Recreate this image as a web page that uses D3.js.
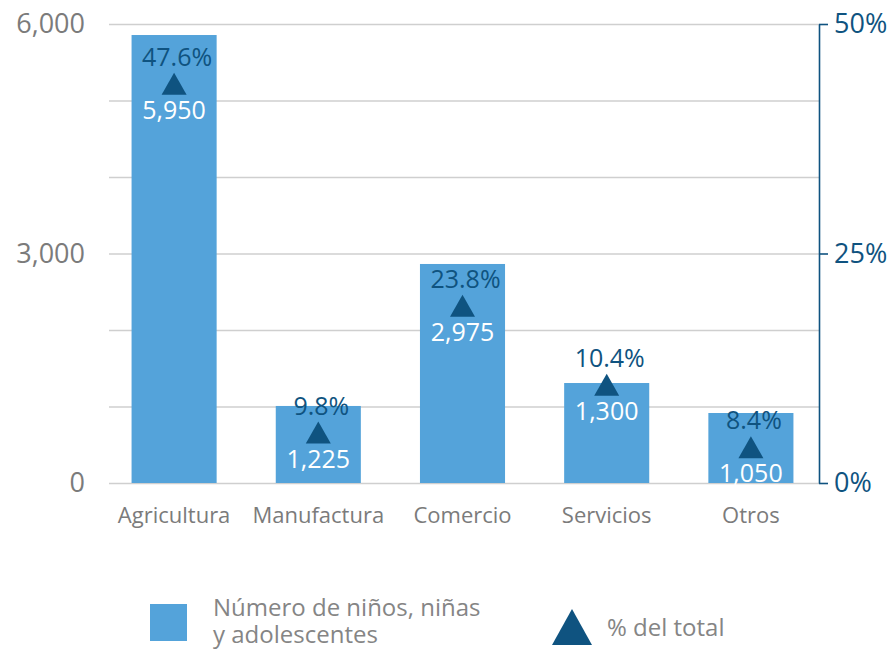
<!DOCTYPE html>
<html>
<head>
<meta charset="utf-8">
<script src="https://cdn.jsdelivr.net/npm/d3@7"></script>
<style>
  body { margin: 0; background: #fff; }
  text { font-family: "Open Sans", sans-serif; }
</style>
</head>
<body>
<div id="chart"></div>
<script>
const categories = ["Agricultura", "Manufactura", "Comercio", "Servicios", "Otros"];
// bar heights as drawn (left axis) and the printed labels
const ninos = [5856, 1007, 2863, 1307, 915];
const ninosLabels = ["5,950", "1,225", "2,975", "1,300", "1,050"];
// triangle positions (right axis, %) and the printed labels
const pctTotal = [43.5, 5.5, 19.3, 10.7, 3.9];
const pctLabels = ["47.6%", "9.8%", "23.8%", "10.4%", "8.4%"];
const leftTicks = [0, 3000, 6000];
const gridTicks = [0, 1000, 2000, 3000, 4000, 5000, 6000];
const rightTicks = [0, 25, 50];

const width = 890;
const height = 649;
const plot = ({left: 109, right: 819, top: 24, bottom: 483});

const barColor = "#54a3da";
const darkBlue = "#0f5380";
const gray = "#7b7b7b";

const svg = d3.select("#chart")
    .append("svg")
    .attr("width", width)
    .attr("height", height);

const x = d3.scaleBand()
    .domain(categories)
    .range([102, 823])
    .paddingInner(0.41)
    .paddingOuter(0.205);

const y = d3.scaleLinear()
    .domain([0, 6000])
    .range([plot.bottom, plot.top]);

const yR = d3.scaleLinear()
    .domain([0, 50])
    .range([plot.bottom, plot.top]);

// gridlines
const grid = svg.append("g")
    .attr("transform", `translate(${plot.left},0)`)
    .call(d3.axisLeft(y).tickValues(gridTicks).tickSize(-(plot.right - plot.left)).tickFormat(""));
grid.select(".domain").remove();
grid.selectAll("line").attr("stroke", "#cfcfcf").attr("stroke-width", 1.3);

// left labels
const yAxis = svg.append("g")
    .attr("transform", `translate(${plot.left},0)`)
    .call(d3.axisLeft(y).tickValues(leftTicks).tickSize(0).tickPadding(24).tickFormat(d3.format(",")));
yAxis.select(".domain").remove();
yAxis.selectAll("text")
    .attr("font-size", 27)
    .attr("fill", gray)
    .style("font-family", "'Open Sans', sans-serif");

// right axis
const yAxisR = svg.append("g")
    .attr("transform", `translate(${plot.right},0)`)
    .call(d3.axisRight(yR).tickValues(rightTicks).tickSize(9).tickSizeOuter(0).tickPadding(6).tickFormat(d => d + "%"));
yAxisR.select(".domain").attr("stroke", darkBlue).attr("stroke-width", 1.6);
yAxisR.selectAll("line").attr("stroke", darkBlue).attr("stroke-width", 1.6);
yAxisR.selectAll("text")
    .attr("font-size", 27)
    .attr("fill", darkBlue)
    .style("font-family", "'Open Sans', sans-serif");

// category labels
svg.append("g")
    .selectAll("text")
    .data(categories)
    .join("text")
    .attr("x", d => x(d) + x.bandwidth() / 2)
    .attr("y", 523)
    .attr("text-anchor", "middle")
    .attr("font-size", 22)
    .attr("fill", gray)
    .text(d => d);

const tri = (cx, cy, w, h) =>
    `M${cx},${cy - h / 2}L${cx + w / 2},${cy + h / 2}L${cx - w / 2},${cy + h / 2}Z`;

let bar = svg.selectAll(".bar")
    .data(categories)
    .join("g")
    .attr("class", "bar");

bar.append("rect")
    .attr("fill", barColor)
    .attr("x", d => x(d))
    .attr("width", x.bandwidth())
    .attr("y", (d, i) => y(ninos[i]))
    .attr("height", (d, i) => y(0) - y(ninos[i]));

bar.append("path")
    .attr("fill", darkBlue)
    .attr("d", (d, i) => tri(x(d) + x.bandwidth() / 2, yR(pctTotal[i]), 25, 22));

bar.append("text")
    .text((d, i) => pctLabels[i])
    .attr("x", d => x(d) + x.bandwidth() / 2 + 3)
    .attr("y", (d, i) => yR(pctTotal[i]) - 18)
    .attr("text-anchor", "middle")
    .attr("font-size", 25)
    .attr("fill", darkBlue);

bar.append("text")
    .text((d, i) => ninosLabels[i])
    .attr("x", d => x(d) + x.bandwidth() / 2)
    .attr("y", (d, i) => yR(pctTotal[i]) + 35)
    .attr("text-anchor", "middle")
    .attr("font-size", 25)
    .attr("fill", "white");

// legend
const legend = svg.append("g");
legend.append("rect")
    .attr("x", 150).attr("y", 604)
    .attr("width", 37).attr("height", 37)
    .attr("fill", barColor);
legend.append("text")
    .attr("x", 213).attr("y", 616)
    .attr("font-size", 24)
    .attr("fill", "#858585")
    .call(t => {
        t.append("tspan").attr("x", 213).text("Número de niños, niñas");
        t.append("tspan").attr("x", 213).attr("dy", 27).text("y adolescentes");
    });
legend.append("path")
    .attr("d", tri(572, 627, 40, 36))
    .attr("fill", darkBlue);
legend.append("text")
    .attr("x", 607).attr("y", 636)
    .attr("font-size", 24)
    .attr("fill", "#858585")
    .text("% del total");
</script>
</body>
</html>
